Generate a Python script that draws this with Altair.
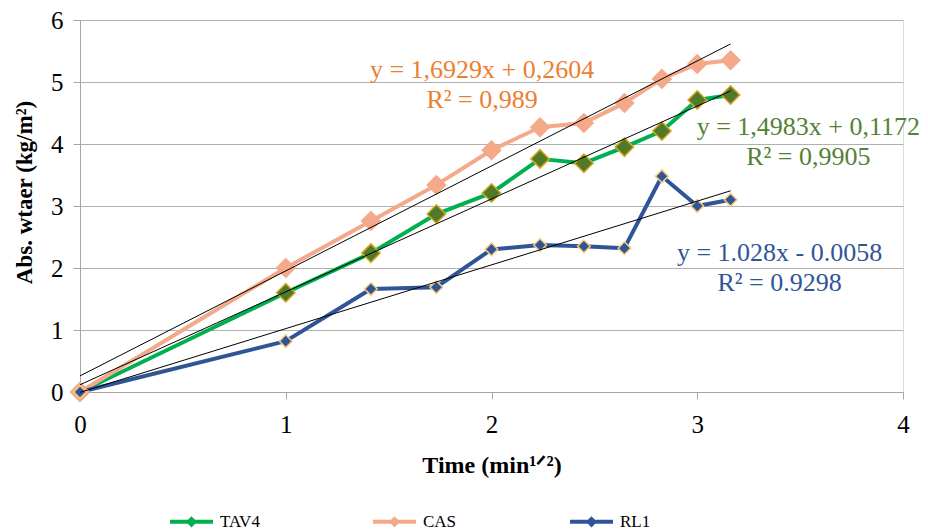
import altair as alt
import pandas as pd

# ---- data ----
x_vals = [0, 1, 1.414, 1.732, 2, 2.236, 2.449, 2.646, 2.828, 3, 3.162]
tav4 = [0, 1.60, 2.24, 2.87, 3.21, 3.76, 3.69, 3.95, 4.21, 4.71, 4.79]
cas = [0, 2.00, 2.76, 3.34, 3.90, 4.27, 4.34, 4.66, 5.05, 5.29, 5.35]
rl1 = [0, 0.82, 1.66, 1.69, 2.30, 2.37, 2.35, 2.32, 3.48, 3.00, 3.10]

series_names = ["TAV4", "CAS", "RL1"]
series_values = [tav4, cas, rl1]
line_colors = ["#00B050", "#F4A98A", "#2F5597"]
marker_fill = ["#4E7A2A", "#F4A98A", "#2F5597"]
marker_stroke = ["#D9A520", "#F4A98A", "#F8C97A"]
marker_size = [340, 340, 160]

trend_x = [0, 3.162]
trend_start = [0.117, 0.260, -0.006]
trend_end = [4.855, 5.614, 3.245]

eq_lines = ["y = 1,4983x + 0,1172", "y = 1,6929x + 0,2604", "y = 1.028x - 0.0058"]
r2_lines = ["R² = 0,9905", "R² = 0,989", "R² = 0.9298"]
label_colors = ["#548235", "#ED7D31", "#2F5597"]
label_x = [3.54, 1.954, 3.40]
eq_y = [4.27, 5.19, 2.24]
r2_y = [3.79, 4.71, 1.76]

SERIF = "Liberation Serif, Times New Roman, DejaVu Serif, serif"

# ---- tables ----
rows = []
for name, vals in zip(series_names, series_values):
    for xv, yv in zip(x_vals, vals):
        rows.append({"series": name, "x": xv, "y": yv})
df = pd.DataFrame(rows)

trows = []
for name, s, e in zip(series_names, trend_start, trend_end):
    trows.append({"series": name, "x": trend_x[0], "y": s})
    trows.append({"series": name, "x": trend_x[1], "y": e})
tdf = pd.DataFrame(trows)

x_enc = alt.X(
    "x:Q",
    scale=alt.Scale(domain=[0, 4], nice=False),
    axis=alt.Axis(
        values=[0, 1, 2, 3, 4], grid=False, format="d", labelFlush=False,
        domainColor="#A6A6A6", tickColor="#A6A6A6", tickSize=7,
        labelFont=SERIF, labelFontSize=25, labelColor="black", labelPadding=13,
        titleFont=SERIF, titleFontSize=24, titleFontWeight="bold",
        titleColor="black", titlePadding=16,
    ),
    title="Time (min¹ᐟ²)",
)
y_enc = alt.Y(
    "y:Q",
    scale=alt.Scale(domain=[0, 6], nice=False),
    axis=alt.Axis(
        values=[0, 1, 2, 3, 4, 5, 6], grid=True, format="d", labelFlush=False,
        gridColor="#B0B0B0", domainColor="#A6A6A6", tickColor="#A6A6A6", tickSize=7,
        labelFont=SERIF, labelFontSize=25, labelColor="black", labelPadding=10,
        titleFont=SERIF, titleFontSize=23, titleFontWeight="bold",
        titleColor="black", titlePadding=14, titleY=172,
    ),
    title="Abs. wtaer (kg/m²)",
)

legend_path = "M-1,0H1M0,-0.13L0.13,0L0,0.13L-0.13,0Z"
legend = alt.Legend(
    title=None, orient="none", legendX=88, legendY=478, direction="horizontal",
    symbolType=legend_path, symbolSize=1849, symbolStrokeWidth=4,
    labelFont=SERIF, labelFontSize=17, labelColor="black",
    columnPadding=105, labelOffset=5,
)

fill_scale = alt.Scale(domain=series_names, range=marker_fill)
stroke_scale = alt.Scale(domain=series_names, range=marker_stroke)

lines = alt.Chart(df).mark_line(strokeWidth=4, strokeJoin="round", strokeCap="round").encode(
    x=x_enc, y=y_enc,
    color=alt.Color("series:N", scale=alt.Scale(domain=series_names, range=line_colors),
                    legend=legend, sort=series_names),
)

point_layers = []
for i, name in enumerate(series_names):
    sub = df[df["series"] == name]
    point_layers.append(
        alt.Chart(sub).mark_point(shape="diamond", filled=True, strokeWidth=1.5,
                                  opacity=1, size=marker_size[i]).encode(
            x=x_enc, y=y_enc,
            fill=alt.Fill("series:N", scale=fill_scale, legend=legend, sort=series_names),
            stroke=alt.Stroke("series:N", scale=stroke_scale, legend=None),
            fillOpacity=alt.value(1),
        )
    )

trend = alt.Chart(tdf).mark_line(color="black", strokeWidth=1).encode(
    x="x:Q", y="y:Q", detail="series:N"
)

texts = []
for i in range(3):
    tdat = pd.DataFrame({
        "t": [eq_lines[i], r2_lines[i]],
        "x": [label_x[i], label_x[i]],
        "y": [eq_y[i], r2_y[i]],
    })
    texts.append(
        alt.Chart(tdat).mark_text(font=SERIF, fontSize=26, color=label_colors[i],
                                  align="center", baseline="middle").encode(
            x="x:Q", y="y:Q", text="t:N"
        )
    )

chart = alt.layer(lines, *point_layers, trend, *texts).resolve_scale(
    stroke="independent"
).properties(
    width=823, height=372,
    autosize=alt.AutoSizeParams(type="none"),
    padding={"left": 80, "top": 20, "right": 25, "bottom": 139},
).configure_view(stroke=None).configure(background="white")

chart.save("out.html", embed_options={"renderer": "svg", "actions": False})
